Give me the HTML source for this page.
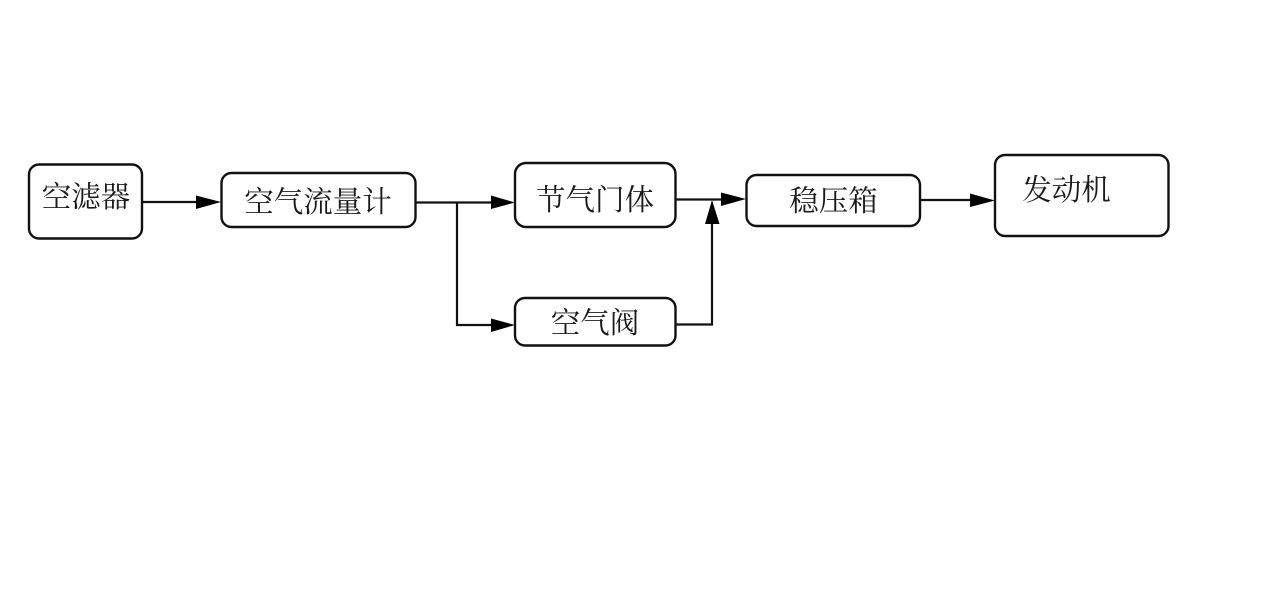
<!DOCTYPE html>
<html lang="zh">
<head>
<meta charset="utf-8">
<title>进气系统流程图</title>
<style>
html,body{margin:0;padding:0;background:#fff;}
body{width:1267px;height:590px;overflow:hidden;}
svg{display:block;}
text{font-family:"Liberation Serif","Noto Serif CJK SC",serif;font-size:29.5px;fill:#1a1a1a;text-anchor:middle;}
.b{fill:#fff;stroke:#111;stroke-width:2.4;}
.l{fill:none;stroke:#111;stroke-width:2.2;}
.a{fill:#000;}
</style>
</head>
<body>
<svg width="1267" height="590" viewBox="0 0 1267 590" xmlns="http://www.w3.org/2000/svg">
<rect width="1267" height="590" fill="#fff"/>
<rect class="b" x="29" y="164.5" width="113" height="74" rx="10"/>
<rect class="b" x="221.500" y="173" width="194" height="54" rx="10"/>
<rect class="b" x="515" y="163" width="160.500" height="64" rx="11"/>
<rect class="b" x="515" y="298" width="160.500" height="47.500" rx="10"/>
<rect class="b" x="746.500" y="175" width="173.500" height="51" rx="10"/>
<rect class="b" x="995" y="155" width="173.500" height="81" rx="10"/>

<path class="l" d="M142 202H198"/>
<path class="l" d="M415.500 202.500H492"/>
<path class="l" d="M457 202.500V325H492"/>
<path class="l" d="M675.500 199.500H723"/>
<path class="l" d="M675.500 324.500H712V222"/>
<path class="l" d="M920 200H972"/>

<polygon class="a" points="196,195.500 221,202 196,209"/>
<polygon class="a" points="491,195.500 515,202.500 491,209"/>
<polygon class="a" points="491,318.500 515,325 491,332"/>
<polygon class="a" points="721,192.500 746,199 721,206"/>
<polygon class="a" points="705,224 712,200 719.500,224"/>
<polygon class="a" points="970,193.500 995,200.500 970,207"/>

<text x="86" y="207">空滤器</text>
<text x="318" y="212">空气流量计</text>
<text x="595" y="210">节气门体</text>
<text x="595" y="333">空气阀</text>
<text x="833.500" y="211">稳压箱</text>
<text x="1066.500" y="200">发动机</text>
</svg>
</body>
</html>
